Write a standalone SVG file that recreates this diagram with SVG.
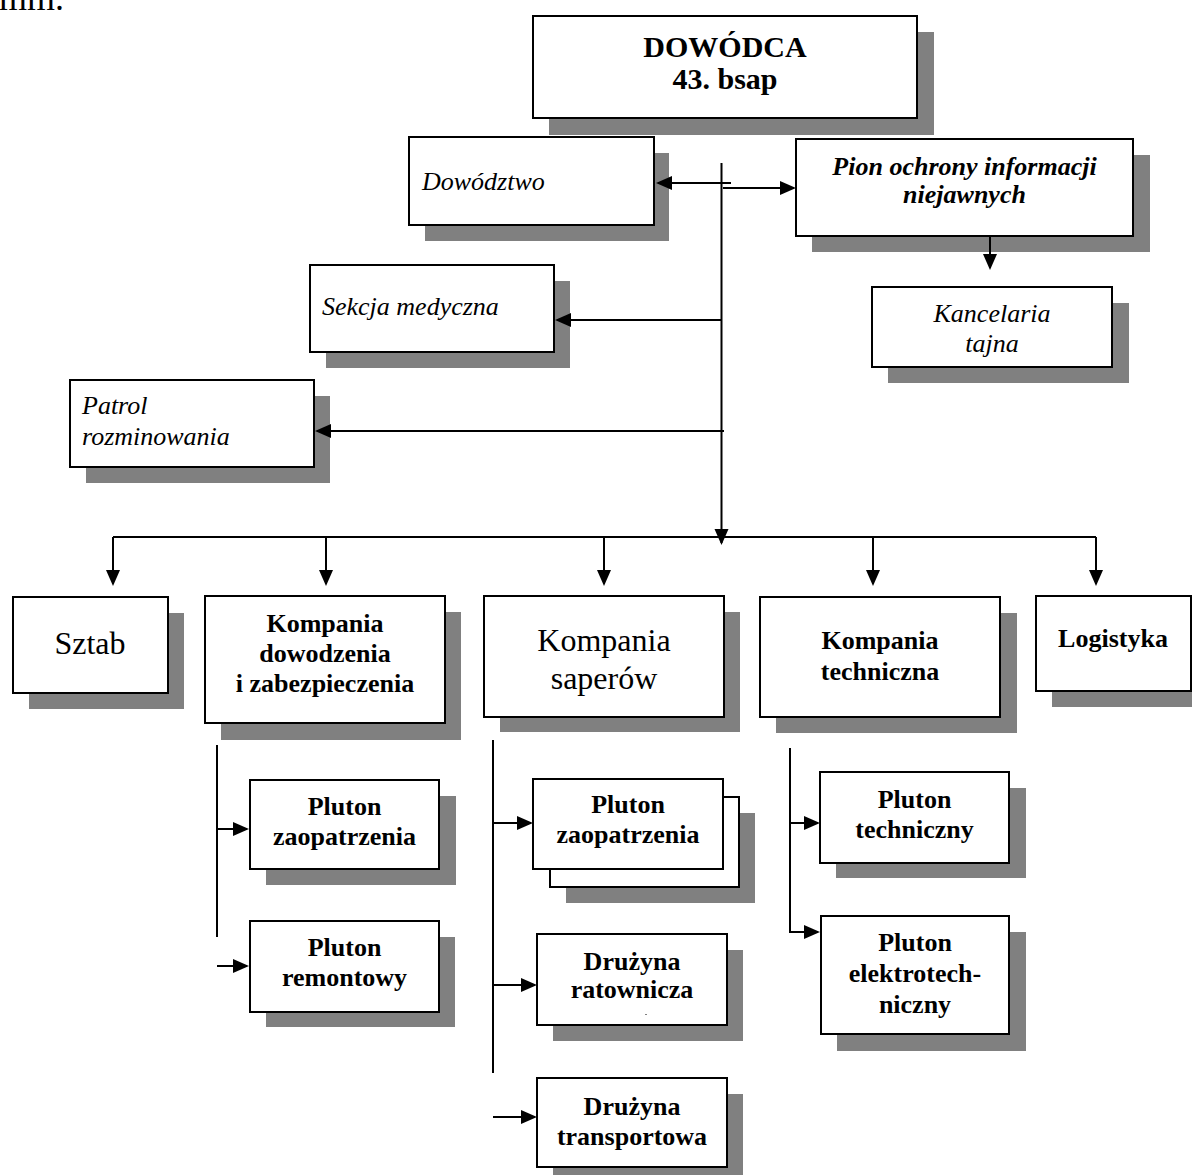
<svg xmlns="http://www.w3.org/2000/svg" width="1192" height="1175" viewBox="0 0 1192 1175">
  <style>
    .box { fill: #ffffff; stroke: #000000; stroke-width: 2; }
    .shd { fill: #808080; stroke: none; }
    .ln { fill: none; stroke: #000000; stroke-width: 2; }
    .arr { fill: none; stroke: #000000; stroke-width: 2; marker-end: url(#head); }
    .arrL { fill: none; stroke: #000000; stroke-width: 2; marker-end: url(#headL); }
    text { font-family: "Liberation Serif", "Times New Roman", serif; fill: #000000; }
    .it { font-style: italic; font-size: 26px; }
    .bd { font-weight: bold; font-size: 26px; }
    .bi { font-weight: bold; font-style: italic; font-size: 26px; }
    .rg { font-size: 32px; }
    .hd { font-weight: bold; font-size: 30px; }
    .c { text-anchor: middle; }
  </style>
  <defs>
    <!-- arrowhead following the path direction (right / down) -->
    <marker id="head" viewBox="0 0 16 14" refX="14" refY="7" markerWidth="16" markerHeight="14" markerUnits="userSpaceOnUse" orient="auto" overflow="visible">
      <path d="M0,0 L16,7 L0,14 Z" fill="#000000"/>
    </marker>
    <!-- arrowhead pointing left -->
    <marker id="headL" viewBox="0 0 16 14" refX="2" refY="7" markerWidth="16" markerHeight="14" markerUnits="userSpaceOnUse" orient="0" overflow="visible">
      <path d="M16,0 L0,7 L16,14 Z" fill="#000000"/>
    </marker>
  </defs>

  <rect width="1192" height="1175" fill="#ffffff"/>

  <!-- end of the preceding paragraph -->
  <text x="-1" y="10" style="font-family: 'Liberation Serif', 'Times New Roman', serif; font-size: 36px;">mm.</text>

  <g id="dowodca">
    <rect class="shd" x="549" y="32" width="385" height="103"/>
    <rect class="box" x="533" y="16" width="384" height="102"/>
    <text class="hd c" x="725" y="57">DOWÓDCA</text>
    <text class="hd c" x="725" y="89">43. bsap</text>
  </g>

  <g id="dowodztwo">
    <rect class="shd" x="425" y="153" width="244" height="88"/>
    <rect class="box" x="409" y="137" width="245" height="88"/>
    <text class="it" x="422" y="190">Dowództwo</text>
  </g>

  <g id="pion-ochrony">
    <rect class="shd" x="812" y="155" width="338" height="97"/>
    <rect class="box" x="796" y="139" width="337" height="97"/>
    <text class="bi c" x="964.5" y="175">Pion ochrony informacji</text>
    <text class="bi c" x="964.5" y="203">niejawnych</text>
  </g>

  <g id="kancelaria">
    <rect class="shd" x="888" y="303" width="241" height="80"/>
    <rect class="box" x="872" y="287" width="240" height="80"/>
    <text class="it c" x="992" y="322">Kancelaria</text>
    <text class="it c" x="992" y="352">tajna</text>
  </g>

  <g id="sekcja-medyczna">
    <rect class="shd" x="326" y="281" width="244" height="87"/>
    <rect class="box" x="310" y="265" width="244" height="87"/>
    <text class="it" x="322" y="315">Sekcja medyczna</text>
  </g>

  <g id="patrol">
    <rect class="shd" x="86" y="396" width="244" height="87"/>
    <rect class="box" x="70" y="380" width="244" height="87"/>
    <text class="it" x="82" y="414">Patrol</text>
    <text class="it" x="82" y="445">rozminowania</text>
  </g>

  <g id="sztab">
    <rect class="shd" x="29" y="613" width="155" height="96"/>
    <rect class="box" x="13" y="597" width="155" height="96"/>
    <text class="rg c" x="90" y="654">Sztab</text>
  </g>

  <g id="kompania-dowodzenia">
    <rect class="shd" x="221" y="612" width="240" height="128"/>
    <rect class="box" x="205" y="596" width="240" height="127"/>
    <text class="bd c" x="325" y="632">Kompania</text>
    <text class="bd c" x="325" y="662">dowodzenia</text>
    <text class="bd c" x="325" y="692">i zabezpieczenia</text>
  </g>

  <g id="kompania-saperow">
    <rect class="shd" x="500" y="612" width="240" height="120"/>
    <rect class="box" x="484" y="596" width="240" height="121"/>
    <text class="rg c" x="604" y="651">Kompania</text>
    <text class="rg c" x="604" y="689">saperów</text>
  </g>

  <g id="kompania-techniczna">
    <rect class="shd" x="776" y="613" width="241" height="120"/>
    <rect class="box" x="760" y="597" width="240" height="120"/>
    <text class="bd c" x="880" y="649">Kompania</text>
    <text class="bd c" x="880" y="680">techniczna</text>
  </g>

  <g id="logistyka">
    <rect class="shd" x="1052" y="612" width="155" height="95"/>
    <rect class="box" x="1036" y="596" width="155" height="95"/>
    <text class="bd c" x="1113" y="647">Logistyka</text>
  </g>

  <g id="pluton-zaopatrzenia-kdz">
    <rect class="shd" x="266" y="796" width="190" height="89"/>
    <rect class="box" x="250" y="780" width="189" height="89"/>
    <text class="bd c" x="344.5" y="815">Pluton</text>
    <text class="bd c" x="344.5" y="845">zaopatrzenia</text>
  </g>

  <g id="pluton-remontowy">
    <rect class="shd" x="266" y="937" width="189" height="90"/>
    <rect class="box" x="250" y="921" width="189" height="91"/>
    <text class="bd c" x="344.5" y="956">Pluton</text>
    <text class="bd c" x="344.5" y="986">remontowy</text>
  </g>

  <g id="pluton-zaopatrzenia-ks">
    <rect class="shd" x="566" y="813" width="189" height="90"/>
    <rect class="box" x="550" y="797" width="189" height="90"/>
    <rect class="box" x="533" y="779" width="190" height="90"/>
    <text class="bd c" x="628" y="813">Pluton</text>
    <text class="bd c" x="628" y="843">zaopatrzenia</text>
  </g>

  <g id="druzyna-ratownicza">
    <rect class="shd" x="553" y="950" width="190" height="91"/>
    <rect class="box" x="537" y="934" width="190" height="91"/>
    <text class="bd c" x="632" y="970">Drużyna</text>
    <text class="bd c" x="632" y="998">ratownicza</text>
    <rect x="645" y="1014" width="2" height="1" fill="#808080"/>
  </g>

  <g id="druzyna-transportowa">
    <rect class="shd" x="553" y="1094" width="190" height="90"/>
    <rect class="box" x="537" y="1078" width="190" height="89"/>
    <text class="bd c" x="632" y="1115">Drużyna</text>
    <text class="bd c" x="632" y="1145">transportowa</text>
  </g>

  <g id="pluton-techniczny">
    <rect class="shd" x="836" y="788" width="190" height="90"/>
    <rect class="box" x="820" y="772" width="189" height="91"/>
    <text class="bd c" x="914.5" y="808">Pluton</text>
    <text class="bd c" x="914.5" y="838">techniczny</text>
  </g>

  <g id="pluton-elektrotechniczny">
    <rect class="shd" x="837" y="932" width="189" height="119"/>
    <rect class="box" x="821" y="916" width="188" height="118"/>
    <text class="bd c" x="915" y="951">Pluton</text>
    <text class="bd c" x="915" y="982">elektrotech-</text>
    <text class="bd c" x="915" y="1013">niczny</text>
  </g>

  <!-- connectors, drawn last so the arrowheads sit on top of the shadows -->
  <g id="connectors">
    <path class="arr" d="M721.5,163 V543"/>
    <path class="arrL" d="M731,183 H658"/>
    <path class="arr" d="M723,188 H794"/>
    <path class="arrL" d="M722,320 H557"/>
    <path class="arrL" d="M724,431 H317"/>
    <path class="arr" d="M990,236 V268"/>

    <path class="ln" d="M113,537 H1096"/>
    <path class="arr" d="M113,537 V584"/>
    <path class="arr" d="M326,537 V584"/>
    <path class="arr" d="M604,537 V584"/>
    <path class="arr" d="M873,537 V584"/>
    <path class="arr" d="M1096,537 V584"/>

    <path class="ln" d="M217,745 V937"/>
    <path class="arr" d="M217,829 H247"/>
    <path class="arr" d="M217,966 H247"/>

    <path class="ln" d="M493,740 V1073"/>
    <path class="arr" d="M493,823 H531"/>
    <path class="arr" d="M493,985 H535"/>
    <path class="arr" d="M493,1117 H535"/>

    <path class="arr" d="M790,748 V932 H818"/>
    <path class="arr" d="M790,823 H818"/>
  </g>
</svg>
